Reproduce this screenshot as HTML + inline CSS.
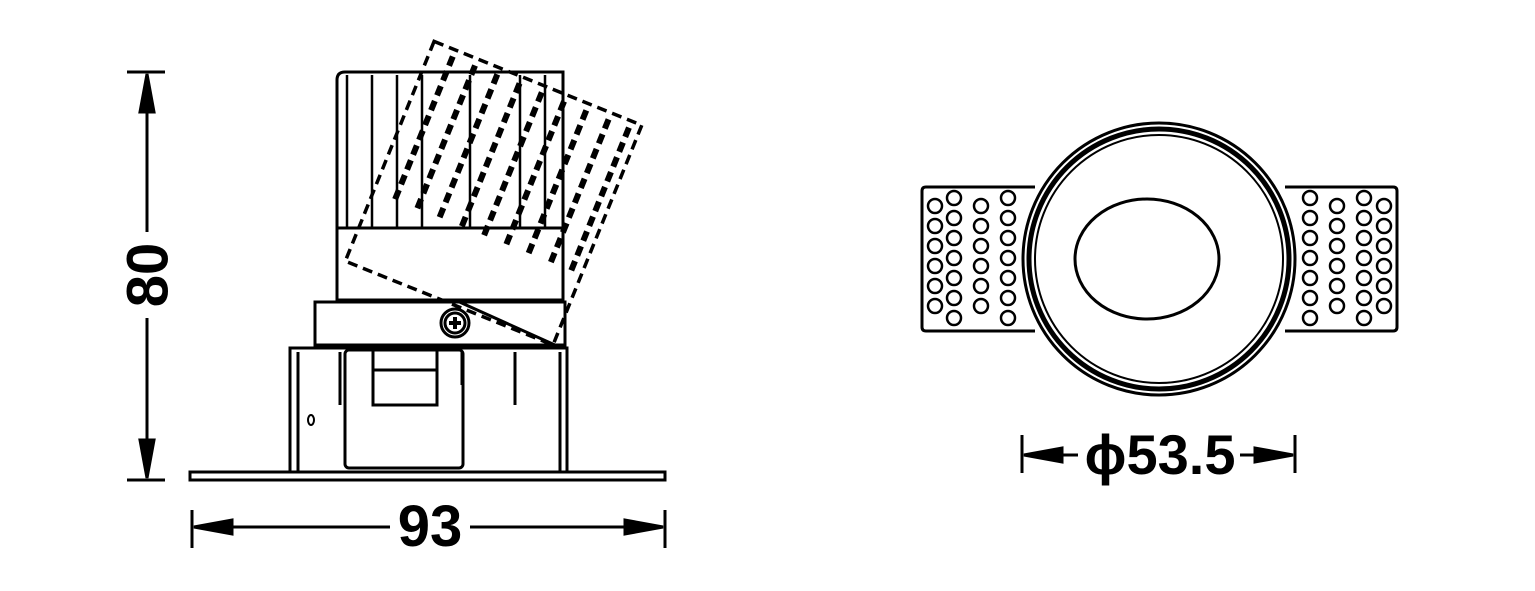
<!DOCTYPE html>
<html><head><style>body{margin:0;background:#fff}svg{display:block}</style></head><body>
<svg width="1535" height="591" viewBox="0 0 1535 591" xmlns="http://www.w3.org/2000/svg" fill="none" stroke="#000" stroke-width="3">
<!-- dimension 80 -->
<line x1="127" y1="72" x2="165" y2="72"/><line x1="127" y1="480" x2="165" y2="480"/>
<line x1="147" y1="75" x2="147" y2="232"/><line x1="147" y1="318" x2="147" y2="477"/>
<polygon points="147,74 140,112 154,112" fill="#000"/><polygon points="147,478 140,440 154,440" fill="#000"/>
<text x="152" y="275" transform="rotate(-90 152 275)" font-family="Liberation Sans" font-weight="bold" font-size="58" text-anchor="middle" dominant-baseline="middle" fill="#000" stroke="none">80</text>
<!-- dimension 93 -->
<line x1="192" y1="510" x2="192" y2="548"/><line x1="665" y1="510" x2="665" y2="548"/>
<line x1="194" y1="527" x2="390" y2="527"/><line x1="470" y1="527" x2="663" y2="527"/>
<polygon points="194,527 232,520 232,534" fill="#000"/><polygon points="663,527 625,520 625,534" fill="#000"/>
<text x="430" y="546" font-family="Liberation Sans" font-weight="bold" font-size="58" text-anchor="middle" fill="#000" stroke="none">93</text>
<!-- plate -->
<rect x="190" y="472" width="475" height="8"/>
<!-- lower box -->
<rect x="290" y="348" width="277" height="124"/>
<line x1="298" y1="352" x2="298" y2="472"/><line x1="560" y1="352" x2="560" y2="472"/>
<rect x="345" y="350" width="118" height="118" rx="4"/>
<rect x="373" y="350" width="64" height="55"/><line x1="373" y1="370" x2="437" y2="370"/>
<line x1="340" y1="352" x2="340" y2="405"/><line x1="462" y1="352" x2="462" y2="385"/><line x1="515" y1="352" x2="515" y2="405"/>
<ellipse cx="311" cy="420" rx="3" ry="5" stroke-width="2"/>
<!-- collar -->
<rect x="315" y="302" width="250" height="43"/>
<circle cx="455" cy="323" r="14"/><circle cx="455" cy="323" r="10"/>
<path d="M449 323h12M455 317v12" stroke-width="4"/>
<line x1="455" y1="300" x2="555" y2="345"/>
<!-- upper body -->
<path d="M337 300V80q0-8 8-8h218v228z"/>
<g stroke-width="2.5"><line x1="347" y1="75" x2="347" y2="228"/><line x1="372" y1="75" x2="372" y2="228"/><line x1="397" y1="75" x2="397" y2="228"/><line x1="422" y1="75" x2="422" y2="228"/><line x1="470" y1="75" x2="470" y2="228"/><line x1="520" y1="75" x2="520" y2="228"/><line x1="545" y1="75" x2="545" y2="228"/></g>
<line x1="337" y1="228" x2="565" y2="228"/>
<!-- tilted dashed body -->
<g transform="rotate(22 553 345)" stroke-dasharray="10 6" stroke-width="3.5">
<rect x="329" y="108" width="224" height="237"/>
<g stroke-width="6"><line x1="352" y1="115" x2="352" y2="270"/><line x1="376" y1="115" x2="376" y2="270"/><line x1="400" y1="115" x2="400" y2="270"/><line x1="424" y1="115" x2="424" y2="270"/><line x1="448" y1="115" x2="448" y2="270"/><line x1="472" y1="115" x2="472" y2="270"/><line x1="496" y1="115" x2="496" y2="270"/><line x1="520" y1="115" x2="520" y2="270"/><line x1="542" y1="115" x2="542" y2="270"/></g>
</g>
<!-- right view tabs -->
<path d="M1035 187H926q-4 0-4 4v136q0 4 4 4h109"/>
<path d="M1285 187h108q4 0 4 4v136q0 4-4 4h-108"/>
<g stroke-width="2.5">
<g><circle cx="935" cy="206" r="7"/><circle cx="935" cy="226" r="7"/><circle cx="935" cy="246" r="7"/><circle cx="935" cy="266" r="7"/><circle cx="935" cy="286" r="7"/><circle cx="935" cy="306" r="7"/></g>
<g><circle cx="954" cy="198" r="7"/><circle cx="954" cy="218" r="7"/><circle cx="954" cy="238" r="7"/><circle cx="954" cy="258" r="7"/><circle cx="954" cy="278" r="7"/><circle cx="954" cy="298" r="7"/><circle cx="954" cy="318" r="7"/></g>
<g><circle cx="981" cy="206" r="7"/><circle cx="981" cy="226" r="7"/><circle cx="981" cy="246" r="7"/><circle cx="981" cy="266" r="7"/><circle cx="981" cy="286" r="7"/><circle cx="981" cy="306" r="7"/></g>
<g><circle cx="1008" cy="198" r="7"/><circle cx="1008" cy="218" r="7"/><circle cx="1008" cy="238" r="7"/><circle cx="1008" cy="258" r="7"/><circle cx="1008" cy="278" r="7"/><circle cx="1008" cy="298" r="7"/><circle cx="1008" cy="318" r="7"/></g>
<g><circle cx="1310" cy="198" r="7"/><circle cx="1310" cy="218" r="7"/><circle cx="1310" cy="238" r="7"/><circle cx="1310" cy="258" r="7"/><circle cx="1310" cy="278" r="7"/><circle cx="1310" cy="298" r="7"/><circle cx="1310" cy="318" r="7"/></g>
<g><circle cx="1337" cy="206" r="7"/><circle cx="1337" cy="226" r="7"/><circle cx="1337" cy="246" r="7"/><circle cx="1337" cy="266" r="7"/><circle cx="1337" cy="286" r="7"/><circle cx="1337" cy="306" r="7"/></g>
<g><circle cx="1364" cy="198" r="7"/><circle cx="1364" cy="218" r="7"/><circle cx="1364" cy="238" r="7"/><circle cx="1364" cy="258" r="7"/><circle cx="1364" cy="278" r="7"/><circle cx="1364" cy="298" r="7"/><circle cx="1364" cy="318" r="7"/></g>
<g><circle cx="1384" cy="206" r="7"/><circle cx="1384" cy="226" r="7"/><circle cx="1384" cy="246" r="7"/><circle cx="1384" cy="266" r="7"/><circle cx="1384" cy="286" r="7"/><circle cx="1384" cy="306" r="7"/></g>
</g>
<circle cx="1159" cy="259" r="136" fill="#fff"/>
<circle cx="1159" cy="259" r="130" stroke-width="5"/>
<circle cx="1159" cy="259" r="124" stroke-width="2"/>
<ellipse cx="1147" cy="259" rx="72" ry="60"/>
<!-- diameter dim -->
<line x1="1022" y1="435" x2="1022" y2="473"/><line x1="1295" y1="435" x2="1295" y2="473"/>
<line x1="1024" y1="455" x2="1078" y2="455"/><line x1="1240" y1="455" x2="1293" y2="455"/>
<polygon points="1024,455 1062,448 1062,462" fill="#000"/><polygon points="1293,455 1255,448 1255,462" fill="#000"/>
<text x="1160" y="474" font-family="Liberation Sans" font-weight="bold" font-size="56" text-anchor="middle" fill="#000" stroke="none">ϕ53.5</text>
</svg>
</body></html>
